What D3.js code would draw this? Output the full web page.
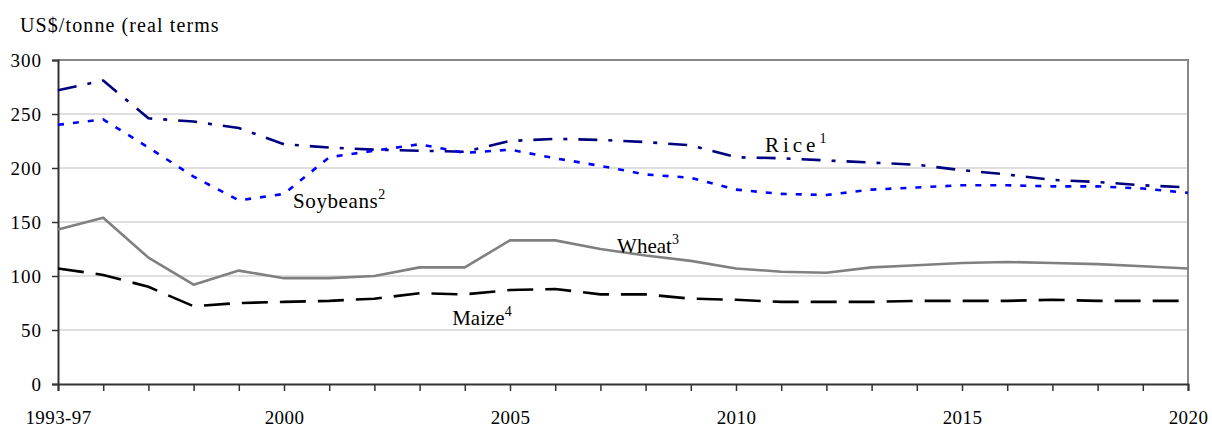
<!DOCTYPE html>
<html>
<head>
<meta charset="utf-8">
<script src="https://cdn.jsdelivr.net/npm/d3@7"></script>
<style>
  body { margin: 0; background: #fff; }
  svg { display: block; }
  svg text { font-family: "Liberation Serif", "Times New Roman", Times, "DejaVu Serif", serif; }
</style>
</head>
<body>
<svg id="chart" width="1212" height="427"></svg>
<script>
const years = d3.range(1995, 2021);
const yearLabels = { 1995: '1993-97', 2000: '2000', 2005: '2005', 2010: '2010', 2015: '2015', 2020: '2020' };
const yTicks = [0, 50, 100, 150, 200, 250, 300];

const rice = [272, 281, 246, 243, 237, 222, 219, 217, 216, 215, 225, 227, 226, 224, 221, 210, 209, 207, 205, 203, 198, 194, 189, 187, 184, 182];
const soybeans = [240, 245, 219, 192, 170, 176, 210, 216, 222, 214, 217, 209, 202, 194, 191, 180, 176, 175, 180, 182, 184, 184, 183, 183, 181, 177];
const wheat = [143, 154, 117, 92, 105, 98, 98, 100, 108, 108, 133, 133, 125, 119, 114, 107, 104, 103, 108, 110, 112, 113, 112, 111, 109, 107];
const maize = [107, 101, 90, 72, 75, 76, 77, 79, 84, 83, 87, 88, 83, 83, 79, 78, 76, 76, 76, 77, 77, 77, 78, 77, 77, 77];

const seriesNames = ['Rice', 'Soybeans', 'Wheat', 'Maize'];
const seriesNotes = ['1', '2', '3', '4'];
// where each name sits, in data units (year, value)
const labelYears = [2010.64, 2000.2, 2007.37, 2003.72];
const labelValues = [215, 163, 121, 55];

const seriesStyle = [
  { color: '#000080', dash: '19,11,4,11', spacing: 4 },
  { color: '#0000ff', dash: '6,9', spacing: 0.6 },
  { color: '#808080', dash: null, spacing: 0 },
  { color: '#000000', dash: '26,12', spacing: 0 }
];

const svg = d3.select('#chart');
const plotLeft = 58, plotRight = 1188, plotTop = 60, plotBottom = 384;

const x = d3.scaleLinear().domain([1995, 2020]).range([plotLeft, plotRight]);
const y = d3.scaleLinear().domain([0, 300]).range([plotBottom, plotTop]);

// gridlines
svg.append('g')
  .selectAll('line')
  .data(yTicks.filter(d => d > 0 && d < 300))
  .enter().append('line')
  .attr('x1', plotLeft).attr('x2', plotRight)
  .attr('y1', d => y(d)).attr('y2', d => y(d))
  .attr('stroke', '#d4d4d4')
  .attr('stroke-width', 1.5);

// plot border (top and right)
svg.append('path')
  .attr('d', `M${plotLeft},${y(300)}H${plotRight}V${plotBottom}`)
  .attr('fill', 'none')
  .attr('stroke', '#888')
  .attr('stroke-width', 2);

// axes
const yAxis = svg.append('g')
  .attr('transform', `translate(${plotLeft},0)`)
  .call(d3.axisLeft(y).tickValues(yTicks).tickSize(6).tickPadding(10));

const xAxis = svg.append('g')
  .attr('transform', `translate(0,${plotBottom})`)
  .call(d3.axisBottom(x).tickValues(years).tickSize(7).tickPadding(20)
    .tickFormat(d => yearLabels[d] || ''));

[yAxis, xAxis].forEach(ax => {
  ax.attr('font-family', null).attr('font-size', null);
  ax.select('.domain').attr('stroke', '#333').attr('stroke-width', 2);
  ax.selectAll('.tick line').attr('stroke', '#333').attr('stroke-width', 1.5);
  ax.selectAll('.tick text')
    .attr('fill', '#000')
    .style('font-size', '19px');
});
yAxis.selectAll('.tick text').style('letter-spacing', '1px').attr('dy', '0.36em');
xAxis.selectAll('.tick text').style('letter-spacing', '0.4px');

// lines
const allSeries = [rice, soybeans, wheat, maize];
const line = d3.line()
  .x((d, i) => x(years[i]))
  .y(d => y(d));

svg.append('g')
  .selectAll('path')
  .data(allSeries)
  .enter().append('path')
  .attr('d', d => line(d))
  .attr('fill', 'none')
  .attr('stroke', (d, i) => seriesStyle[i].color)
  .attr('stroke-width', 2.6)
  .attr('stroke-dasharray', (d, i) => seriesStyle[i].dash)
  .attr('stroke-linejoin', 'round');

// series names
const labels = svg.append('g')
  .selectAll('text')
  .data(seriesNames)
  .enter().append('text')
  .attr('x', (d, i) => x(labelYears[i]))
  .attr('y', (d, i) => y(labelValues[i]))
  .attr('fill', '#000')
  .style('font-size', '21px');

labels.append('tspan')
  .style('letter-spacing', (d, i) => seriesStyle[i].spacing + 'px')
  .text(d => d);
labels.append('tspan')
  .attr('dy', -9)
  .style('font-size', '14px')
  .text((d, i) => seriesNotes[i]);

// unit title
svg.append('text')
  .attr('x', 20)
  .attr('y', 32)
  .attr('fill', '#000')
  .style('font-size', '20px')
  .style('letter-spacing', '1.1px')
  .text('US$/tonne (real terms');
</script>
</body>
</html>
